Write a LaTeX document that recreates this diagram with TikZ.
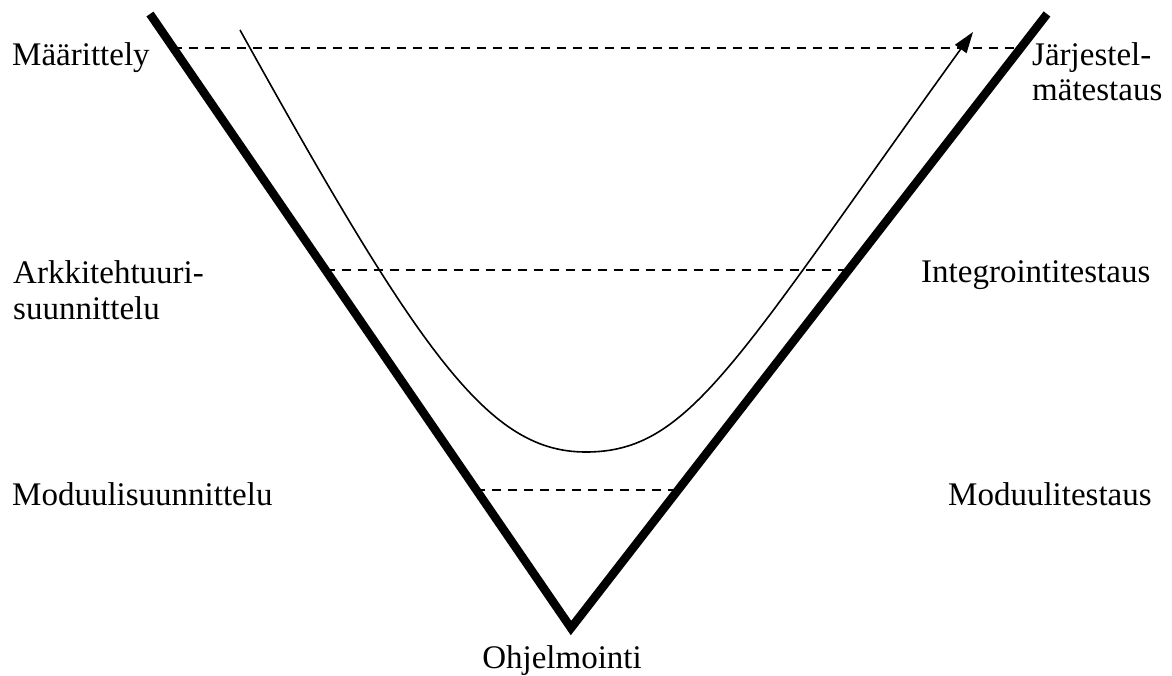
\documentclass[tikz,border=0pt]{standalone}
\usepackage{fontspec}
\setmainfont{Liberation Serif}
\usetikzlibrary{calc,arrows.meta}
\tikzset{
  vline/.style={line width=8.5pt, line join=miter},
  level/.style={line width=1.5pt, dash pattern=on 9pt off 7pt},
  flow/.style={line width=1.6pt, -{Triangle[length=21pt,width=14pt]}},
  lbl/.style={inner sep=0pt, font=\fontsize{33}{36}\selectfont}
}
\begin{document}
\begin{tikzpicture}[x=1pt,y=-1pt]
\useasboundingbox (0,0) rectangle (1172,675);
% V shape
\coordinate (tl) at (150,14);
\coordinate (bot) at (571,628);
\coordinate (tr) at (1047,14);
% level lines
\coordinate (l1) at ($(tl)!0.0554!(bot)$);
\coordinate (r1) at ($(tr)!0.0554!(bot)$);
\coordinate (l2) at ($(tl)!0.417!(bot)$);
\coordinate (r2) at ($(tr)!0.417!(bot)$);
\coordinate (l3) at ($(tl)!0.775!(bot)$);
\coordinate (r3) at ($(tr)!0.775!(bot)$);
\draw[level] (l1) -- (r1);
\draw[level] (l2) -- (r2);
\draw[level] (l3) -- (r3);
\draw[vline] (tl) -- (bot) -- (tr);
% flow curve
\coordinate (cs) at (240,30);
\coordinate (cm) at (586,452);
\coordinate (ce) at (973,32);
\draw[flow] (cs) .. controls (423,360) and (490,452) .. (cm)
  .. controls (690,452) and (735,362) .. (ce);
% labels
\node[lbl, anchor=base west] (maar) at (12,65) {Määrittely};
\node[lbl, anchor=base west] (jar1) at (1032,65) {Järjestel-};
\node[lbl, anchor=base west] (jar2) at (1032,100) {mätestaus};
\node[lbl, anchor=base west] (ark1) at (13,283) {Arkkitehtuuri-};
\node[lbl, anchor=base west] (ark2) at (13,319) {suunnittelu};
\node[lbl, anchor=base west] (int) at (921,282) {Integrointitestaus};
\node[lbl, anchor=base west] (mods) at (12,505) {Moduulisuunnittelu};
\node[lbl, anchor=base west] (modt) at (948,505) {Moduulitestaus};
\node[lbl, anchor=base] (ohj) at (562,668) {Ohjelmointi};
\end{tikzpicture}
\end{document}
